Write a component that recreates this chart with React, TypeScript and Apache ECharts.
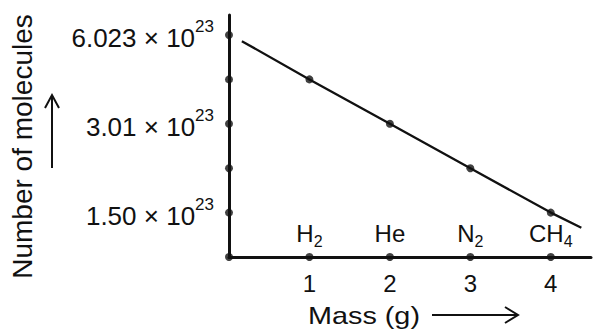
import { useEffect, useRef } from 'react';
import * as echarts from 'echarts';

// ---- data (plot units) ----
const massTicks = [1, 2, 3, 4];
const gasBase = ['H', 'He', 'N', 'CH'];
const gasSub = ['2', '', '2', '4'];
const moleculeLevels = [4, 3, 2, 1];
const lineStart = [0.16, 4.86];
const lineEnd = [4.38, 0.66];
const yTickLevels = [0, 1, 2, 3, 4, 5];
const yLabelLevels = [5, 3, 1];
const yLabelMantissa = ['6.023', '3.01', '1.50'];
const yLabelExponent = '23';

const FONT = '"Liberation Sans", Arial, Helvetica, sans-serif';
const INK = '#111111';

export default function App() {
  const ref = useRef<HTMLDivElement>(null);
  useEffect(() => {
    document.body.style.margin = '0';
    const chart = echarts.init(ref.current!, null, { renderer: 'svg' });

    const linePoints = [
      lineStart,
      ...massTicks.map((m, i) => [m, moleculeLevels[i]]),
      lineEnd,
    ];
    const linePointDots = massTicks.map((m, i) => [m, moleculeLevels[i]]);
    const axisDots = [
      ...yTickLevels.map((v) => [0, v]),
      ...massTicks.map((m) => [m, 0]),
    ];

    const axisLine = { show: true, onZero: false, lineStyle: { color: INK, width: 3 } };

    const option: any = {
      animation: false,
      backgroundColor: '#ffffff',
      grid: { left: 229, top: 15, width: 362.7, height: 242 },
      xAxis: [
        {
          type: 'value',
          position: 'bottom',
          min: 0,
          max: 4.5,
          interval: 1,
          axisLine,
          axisTick: { show: false },
          splitLine: { show: false },
          axisLabel: {
            inside: true,
            margin: 8,
            showMinLabel: false,
            showMaxLabel: false,
            formatter: (v: number) => {
              const i = massTicks.indexOf(v);
              if (i < 0) return '';
              return gasSub[i]
                ? `{m|${gasBase[i]}}{s|${gasSub[i]}}`
                : `{p|${gasBase[i]}}`;
            },
            rich: {
              m: { fontSize: 24, fontFamily: FONT, color: INK, verticalAlign: 'top' },
              p: { fontSize: 24, fontFamily: FONT, color: INK, verticalAlign: 'top', padding: [0, 0, 4, 0] },
              s: { fontSize: 16, fontFamily: FONT, color: INK, verticalAlign: 'bottom', padding: [12, 0, 0, 0] },
            },
          },
        },
        {
          type: 'value',
          position: 'bottom',
          min: 0,
          max: 4.5,
          interval: 1,
          axisLine: { show: false, onZero: false },
          axisTick: { show: false },
          splitLine: { show: false },
          axisLabel: {
            margin: 14,
            fontSize: 24,
            fontFamily: FONT,
            color: INK,
            formatter: (v: number) => (massTicks.indexOf(v) >= 0 ? String(v) : ''),
          },
        },
      ],
      yAxis: {
        type: 'value',
        min: 0,
        max: 5.45,
        interval: 1,
        axisLine,
        axisTick: { show: false },
        splitLine: { show: false },
        axisLabel: {
          margin: 15,
          formatter: (v: number) => {
            const i = yLabelLevels.indexOf(v);
            if (i < 0) return '';
            return `{m|${yLabelMantissa[i]} × 10}{s|${yLabelExponent}}`;
          },
          rich: {
            m: { fontSize: 26, fontFamily: FONT, color: INK, verticalAlign: 'bottom' },
            s: { fontSize: 17, fontFamily: FONT, color: INK, verticalAlign: 'top', padding: [0, 0, 16, 0] },
          },
        },
      },
      series: [
        {
          type: 'line',
          xAxisIndex: 0,
          data: linePoints,
          showSymbol: false,
          silent: true,
          lineStyle: { color: INK, width: 2.3 },
        },
        {
          type: 'scatter',
          xAxisIndex: 0,
          data: linePointDots,
          symbolSize: 8,
          itemStyle: { color: INK },
          silent: true,
        },
        {
          type: 'scatter',
          xAxisIndex: 0,
          data: axisDots,
          symbolSize: 8,
          clip: false,
          itemStyle: { color: INK },
          silent: true,
          z: 5,
        },
      ],
      graphic: [
        {
          type: 'text',
          x: 22.5,
          y: 146.5,
          rotation: Math.PI / 2,
          style: {
            text: 'Number of molecules',
            fontSize: 28,
            fontFamily: FONT,
            fill: INK,
            align: 'center',
            verticalAlign: 'middle',
            textAlign: 'center',
            textVerticalAlign: 'middle',
          },
        },
        {
          type: 'line',
          shape: { x1: 52, y1: 96, x2: 52, y2: 168 },
          style: { stroke: INK, lineWidth: 2 },
        },
        {
          type: 'polyline',
          shape: { points: [[45, 108], [52, 95], [59, 108]] },
          style: { stroke: INK, lineWidth: 2, fill: null },
        },
        {
          type: 'text',
          x: 308,
          y: 316,
          scaleX: 1.2,
          style: {
            text: 'Mass (g)',
            fontSize: 24,
            fontFamily: FONT,
            fill: INK,
            align: 'left',
            verticalAlign: 'middle',
            textAlign: 'left',
            textVerticalAlign: 'middle',
          },
        },
        {
          type: 'line',
          shape: { x1: 432, y1: 315, x2: 517, y2: 315 },
          style: { stroke: INK, lineWidth: 2 },
        },
        {
          type: 'polyline',
          shape: { points: [[505, 307], [518, 315], [505, 323]] },
          style: { stroke: INK, lineWidth: 2, fill: null },
        },
      ],
    };

    chart.setOption(option);
    return () => chart.dispose();
  }, []);
  return <div ref={ref} style={{ width: 594, height: 331 }} />;
}
